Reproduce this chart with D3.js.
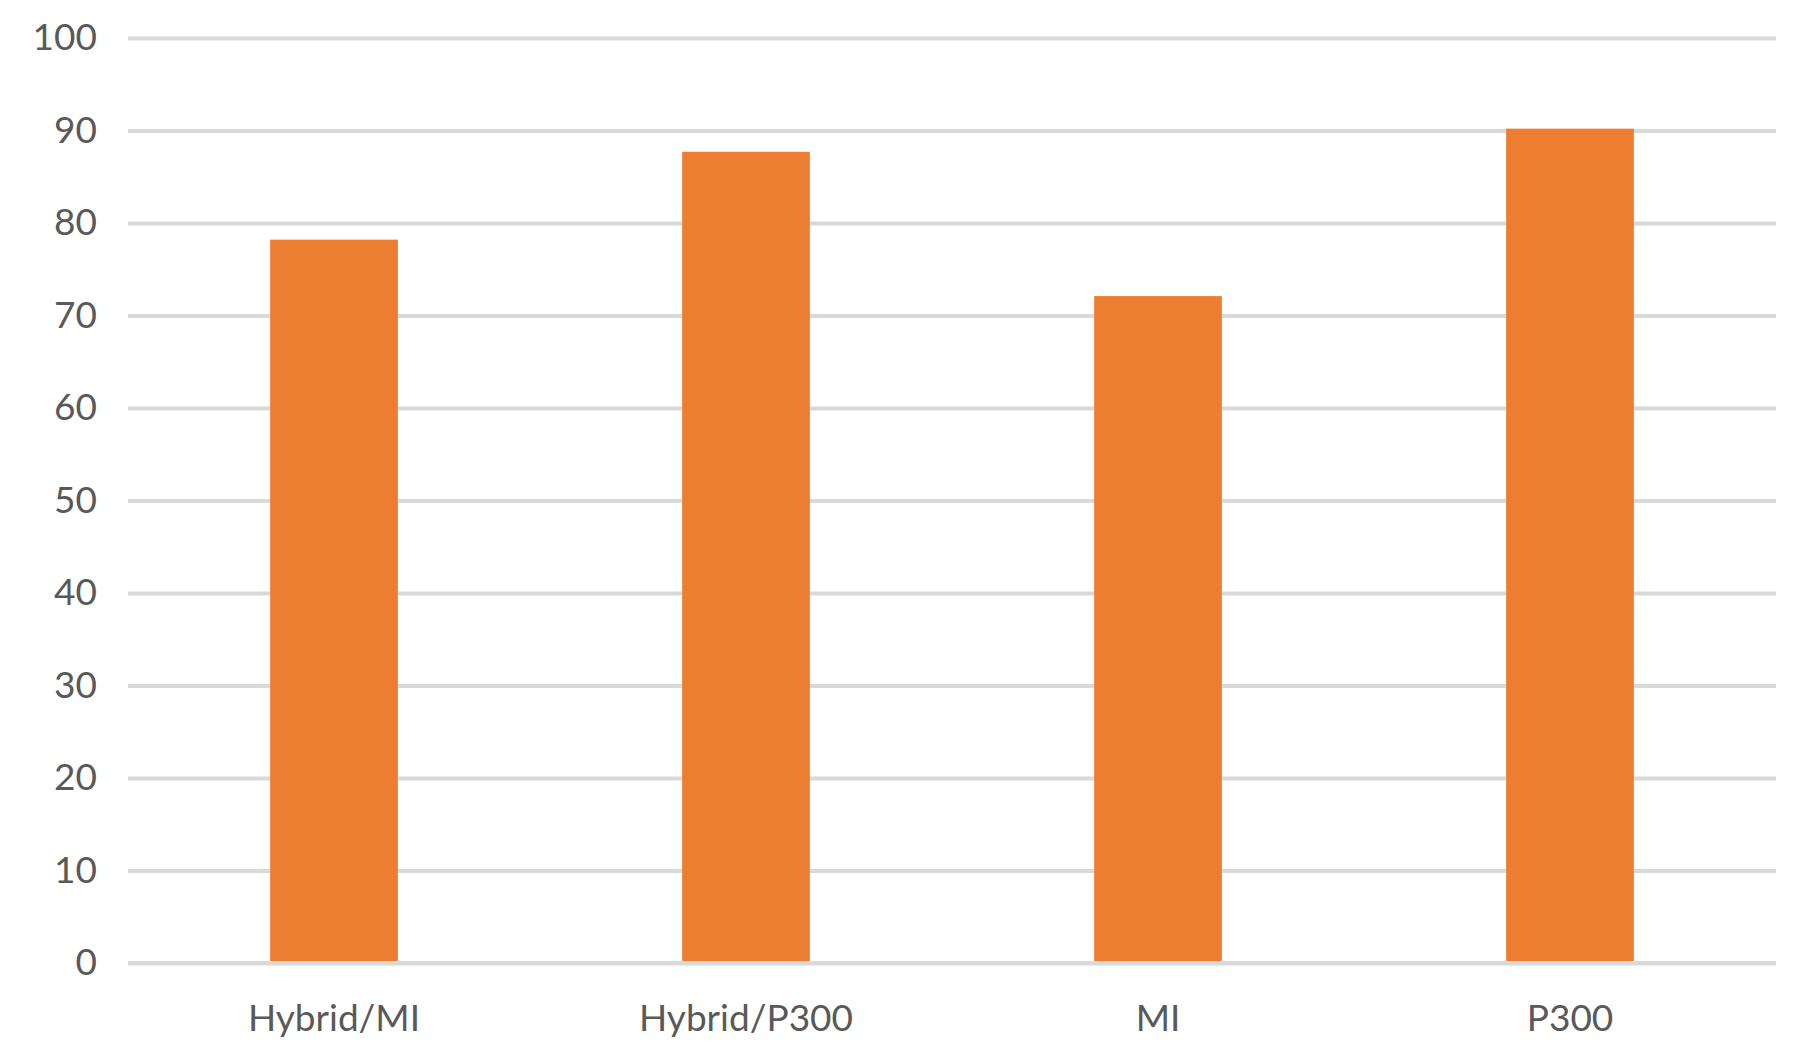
<!DOCTYPE html>
<html>
<head>
<meta charset="utf-8">
<script src="https://cdn.jsdelivr.net/npm/d3@7"></script>
<style>
  body { margin: 0; background: #fff; }
  .tick text { font-family: Lato, "Open Sans", sans-serif; fill: #595959; }
</style>
</head>
<body>
<script>
// categories and values
const categories = ["Hybrid/MI", "Hybrid/P300", "MI", "P300"];
const values = [78.2, 87.7, 72.1, 90.2];
const yTicks = [0, 10, 20, 30, 40, 50, 60, 70, 80, 90, 100];

const w = 1793;
const h = 1057;
const plotLeft = 128, plotRight = 1776, plotTop = 38, plotBottom = 963;

const svg = d3.select("body")
    .append("svg")
    .attr("width", w)
    .attr("height", h);

const x = d3.scaleBand()
    .domain(categories)
    .range([plotLeft, plotRight])
    .paddingInner(0.69)
    .paddingOuter(0.345);

const y = d3.scaleLinear()
    .domain([0, 100])
    .range([plotBottom, plotTop]);

// y axis with gridlines
const yAxis = svg.append("g")
    .attr("transform", `translate(${plotLeft},0)`)
    .call(d3.axisLeft(y).tickValues(yTicks).tickSize(-(plotRight - plotLeft)).tickPadding(31));
yAxis.select(".domain").remove();
yAxis.selectAll(".tick line").attr("stroke", "#d9d9d9").attr("stroke-width", 4);
yAxis.selectAll(".tick text").style("font-size", "37px");

// bars
svg.selectAll("rect.bar")
    .data(values)
    .enter()
    .append("rect")
    .attr("class", "bar")
    .attr("x", (d, i) => x(categories[i]))
    .attr("y", d => y(d))
    .attr("width", x.bandwidth())
    .attr("height", d => y(0) - y(d))
    .attr("fill", "#ed7d31");

// baseline over the bars
svg.append("line")
    .attr("x1", plotLeft).attr("x2", plotRight)
    .attr("y1", y(0)).attr("y2", y(0))
    .attr("stroke", "#d9d9d9")
    .attr("stroke-width", 4);

// x axis labels
const xAxis = svg.append("g")
    .attr("transform", `translate(0,${plotBottom})`)
    .call(d3.axisBottom(x).tickSize(0).tickPadding(42));
xAxis.select(".domain").remove();
xAxis.selectAll(".tick text").style("font-size", "37px");
</script>
</body>
</html>
